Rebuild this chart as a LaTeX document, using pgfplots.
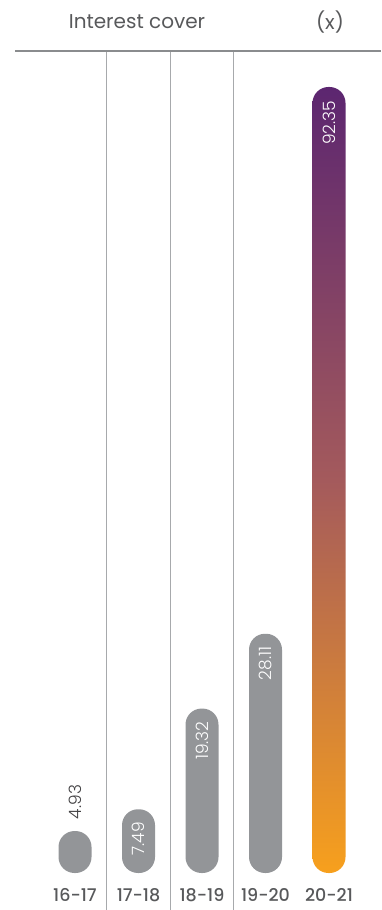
\documentclass[border=0pt]{standalone}
\usepackage{fontspec}
\setmainfont{Poppins}
\newfontfamily\poplight{Poppins Light}
\newfontfamily\popmed{Poppins Medium}
\usepackage{pgfplots}
\pgfplotsset{compat=1.18}
\usetikzlibrary{calc}
\definecolor{bargrey}{HTML}{939598}
\definecolor{txtgrey}{HTML}{58595B}
\definecolor{valgrey}{HTML}{414042}
\definecolor{gridgrey}{HTML}{A7A9AC}
\definecolor{topline}{HTML}{8A8C8E}
\definecolor{gorange}{HTML}{F7A01D}
\definecolor{gpurple}{HTML}{5C2670}
\definecolor{gmid}{HTML}{A45A5C}
\begin{document}
\begin{tikzpicture}
\begin{axis}[name=ax, scale only axis, width=366pt, height=859pt,
  xmin=-0.945, xmax=4.819, ymin=-4.347, ymax=96.58,
  ybar, bar width=33pt, bar shift=0pt,
  xtick={0,1,2,3,4}, xticklabels={16-17,17-18,18-19,19-20,20-21},
  xticklabel style={anchor=center, yshift=15pt, font=\popmed\fontsize{17.5}{17.5}\selectfont, text=txtgrey},
  ytick=\empty, major tick length=0pt, minor tick length=0pt,
  minor xtick={0.5,1.5,2.5}, xminorgrids=true,
  minor grid style={gridgrey, line width=1pt},
  axis line style={draw=none},
  clip=false,
  /pgf/number format/assume math mode=true,
  /pgf/number format/.cd, fixed, precision=2, zerofill, /pgfplots/.cd,
]
\addplot[fill=bargrey, draw=none, rounded corners=16pt,
  nodes near coords,
  nodes near coords style={rotate=90, anchor=west, inner sep=0pt, outer sep=12pt, text=valgrey, font=\poplight\fontsize{17}{17}\selectfont}]
  coordinates {(0,4.93)};
\addplot[fill=bargrey, draw=none, rounded corners=16pt,
  nodes near coords,
  nodes near coords style={rotate=90, anchor=east, inner sep=0pt, outer sep=13pt, text=white, font=\poplight\fontsize{17}{17}\selectfont}]
  coordinates {(1,7.49) (2,19.32) (3,28.11)};
\addplot[draw=none, top color=gpurple, bottom color=gorange, middle color=gmid, rounded corners=16pt,
  nodes near coords,
  nodes near coords style={rotate=90, anchor=east, inner sep=0pt, outer sep=14pt, text=white, font=\poplight\fontsize{17}{17}\selectfont}]
  coordinates {(4,92.35)};
\end{axis}
\draw[topline, line width=1.8pt] (ax.north west) -- (ax.north east);
\node[font=\fontsize{20}{20}\selectfont, text=txtgrey] at ($(ax.north west)+(122pt,29pt)$) {Interest cover};
\node[font=\fontsize{20}{20}\selectfont, text=txtgrey] at ($(ax.north west)+(315pt,29pt)$) {(x)};
\pgfresetboundingbox
\path ($(ax.south west)+(-15pt,0)$) rectangle ($(ax.north east)+(0,51pt)$);
\end{tikzpicture}
\end{document}
